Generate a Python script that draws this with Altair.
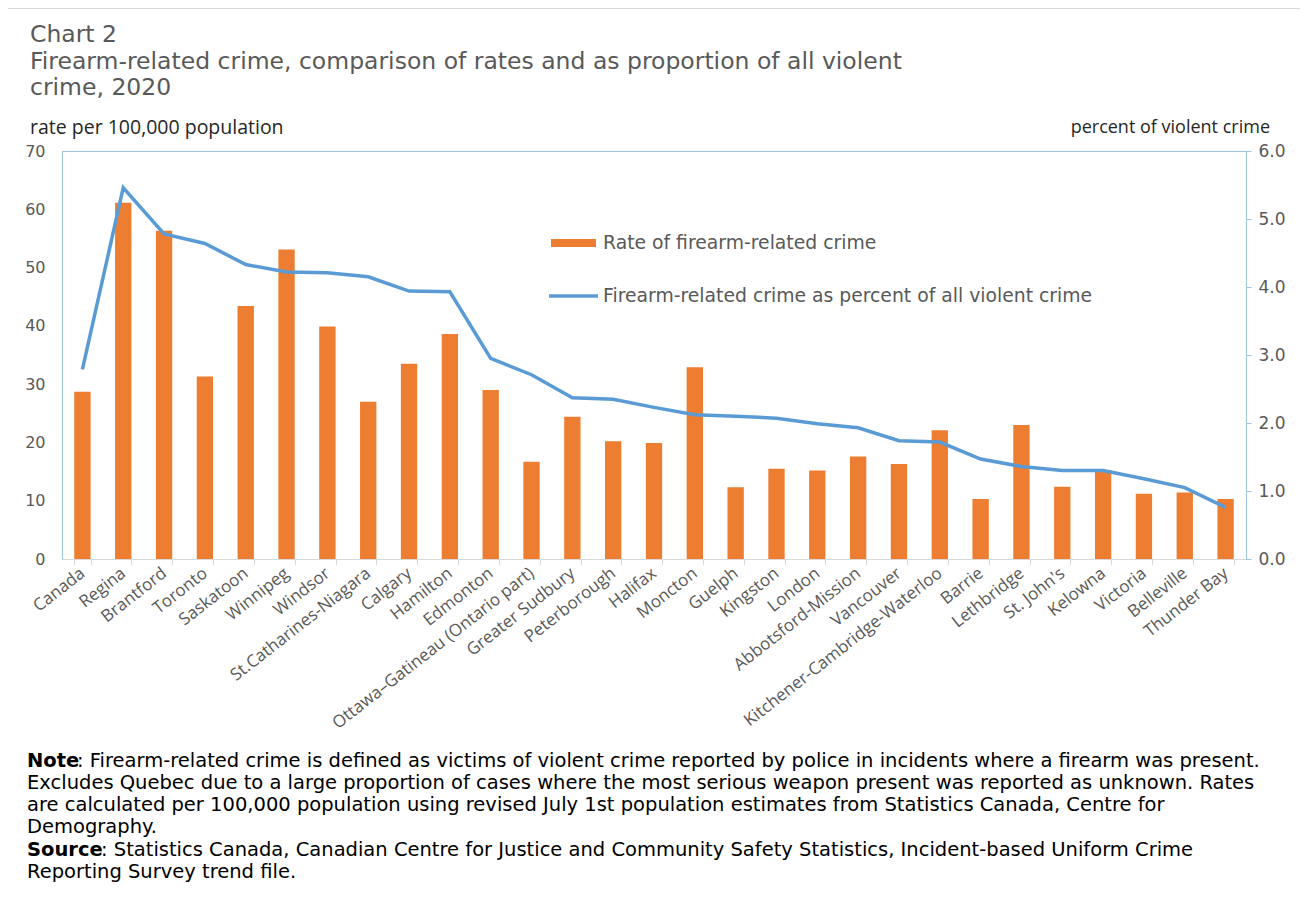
import altair as alt
import pandas as pd

cities = ["Canada", "Regina", "Brantford", "Toronto", "Saskatoon", "Winnipeg", "Windsor",
          "St.Catharines-Niagara", "Calgary", "Hamilton", "Edmonton",
          "Ottawa\u2013Gatineau (Ontario part)", "Greater Sudbury", "Peterborough", "Halifax",
          "Moncton", "Guelph", "Kingston", "London", "Abbotsford-Mission", "Vancouver",
          "Kitchener-Cambridge-Waterloo", "Barrie", "Lethbridge", "St. John's", "Kelowna",
          "Victoria", "Belleville", "Thunder Bay"]
rate = [28.7, 61.1, 56.3, 31.3, 43.4, 53.1, 39.9, 27.0, 33.5, 38.6, 29.0, 16.7, 24.4, 20.2,
        19.9, 32.9, 12.3, 15.5, 15.2, 17.6, 16.3, 22.1, 10.3, 23.0, 12.4, 15.2, 11.2, 11.4, 10.3]
pct = [2.79, 5.46, 4.78, 4.64, 4.33, 4.22, 4.21, 4.15, 3.94, 3.93, 2.95, 2.71, 2.37, 2.35,
       2.23, 2.12, 2.10, 2.07, 1.99, 1.93, 1.74, 1.72, 1.47, 1.36, 1.30, 1.30, 1.18, 1.05, 0.76]
left_ticks = [0, 10, 20, 30, 40, 50, 60, 70]
right_ticks = [0, 1, 2, 3, 4, 5, 6]

title_lines = ["Chart 2",
               "Firearm-related crime, comparison of rates and as proportion of all violent",
               "crime, 2020"]
left_title = "rate per 100,000 population"
right_title = "percent of violent crime"
legend_bar = "Rate of firearm-related crime"
legend_line = "Firearm-related crime as percent of all violent crime"
note_head = "Note"
note_lines = [": Firearm-related crime is defined as victims of violent crime reported by police in incidents where a firearm was present.",
              "Excludes Quebec due to a large proportion of cases where the most serious weapon present was reported as unknown. Rates",
              "are calculated per 100,000 population using revised July 1st population estimates from Statistics Canada, Centre for",
              "Demography."]
source_head = "Source"
source_lines = [": Statistics Canada, Canadian Centre for Justice and Community Safety Statistics, Incident-based Uniform Crime",
                "Reporting Survey trend file."]

df = pd.DataFrame({"city": cities, "rate": rate, "pct": pct})
one = pd.DataFrame({"a": [0]})

W, H = 1184, 408
GRAY = "#595959"
DARK = "#262626"
FONT = "DejaVu Sans"
ORANGE = "#ED7D31"
BLUE = "#5B9BD5"
LBLUE = "#9DC3E6"

xenc = alt.X("city:N", sort=cities, title=None,
             scale=alt.Scale(paddingInner=0.6, paddingOuter=0.3),
             axis=alt.Axis(labelAngle=-38, labelFont="Open Sans", labelFontSize=17,
                           labelColor=GRAY, labelAlign="right", labelBaseline="middle",
                           labelPadding=6, domainColor="#d9d9d9", tickColor="#d9d9d9",
                           tickSize=6, tickBand="extent", labelLimit=400, grid=False))

bars = alt.Chart(df).mark_bar(color=ORANGE).encode(
    x=xenc,
    y=alt.Y("rate:Q", scale=alt.Scale(domain=[0, 70]),
            axis=alt.Axis(values=left_ticks, title=None, labelFont=FONT, labelFontSize=16,
                          labelColor=GRAY, domainColor=LBLUE, ticks=False, grid=False,
                          labelPadding=17)))

line = alt.Chart(df).mark_line(color=BLUE, strokeWidth=3.5).encode(
    x=xenc,
    y=alt.Y("pct:Q", scale=alt.Scale(domain=[0, 6]),
            axis=alt.Axis(orient="right", values=right_ticks, format=".1f", title=None,
                          labelFont=FONT, labelFontSize=17, labelColor=GRAY,
                          domainColor=LBLUE, tickColor=LBLUE, tickSize=5, grid=False,
                          labelPadding=7)))


def txt(s, x, y, size=15, font=FONT, color=GRAY, bold=False, align="left"):
    return alt.Chart(one).mark_text(text=s, align=align, baseline="middle", font=font,
                                    fontSize=size, color=color,
                                    fontWeight="bold" if bold else "normal").encode(
        x=alt.value(x), y=alt.value(y))


layers = [bars, line]

# outer frame
layers.append(alt.Chart(one).mark_rect(filled=False, stroke="#d9d9d9", strokeWidth=1).encode(
    x=alt.value(-54.5), x2=alt.value(1300), y=alt.value(-142.5), y2=alt.value(800)))

# title
for s, yy in zip(title_lines, [-116, -89, -63]):
    layers.append(txt(s, -32, yy, size=23.5, color=GRAY))

layers.append(txt(left_title, -32, -23, size=19.5, font="Open Sans", color=DARK))
layers.append(txt(right_title, 1208, -23, size=18, font="Open Sans", color=DARK, align="right"))

# legend
layers.append(alt.Chart(one).mark_rect(color=ORANGE).encode(
    x=alt.value(489), x2=alt.value(534), y=alt.value(88), y2=alt.value(96)))
layers.append(alt.Chart(one).mark_rule(color=BLUE, strokeWidth=3.5).encode(
    x=alt.value(487), x2=alt.value(536), y=alt.value(145)))
layers.append(txt(legend_bar, 541, 92, size=18.8))
layers.append(txt(legend_line, 541, 145, size=18.8))

# note
NS = 19.5
note_y = [610, 632, 654, 676]
layers.append(txt(note_head, -35, note_y[0], size=NS, color="#000000", bold=True))
layers.append(txt(note_lines[0], 15, note_y[0], size=NS, color="#000000"))
for s, yy in zip(note_lines[1:], note_y[1:]):
    layers.append(txt(s, -35, yy, size=NS, color="#000000"))
src_y = [699, 721]
layers.append(txt(source_head, -35, src_y[0], size=NS, color="#000000", bold=True))
layers.append(txt(source_lines[0], 39, src_y[0], size=NS, color="#000000"))
layers.append(txt(source_lines[1], -35, src_y[1], size=NS, color="#000000"))

chart = alt.layer(*layers).resolve_scale(y="independent").properties(
    width=W, height=H,
    autosize=alt.AutoSizeParams(type="none"),
    padding={"left": 54, "top": 143, "right": 54, "bottom": 325},
    background="white",
).configure_view(stroke=LBLUE)

chart.save("out.html", embed_options={"renderer": "svg", "actions": False})
